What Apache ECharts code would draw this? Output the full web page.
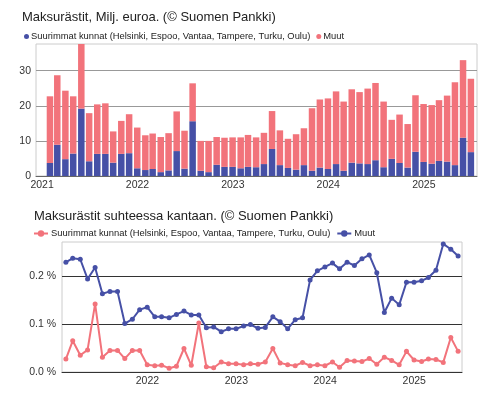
<!DOCTYPE html>
<html><head><meta charset="utf-8">
<script src="https://cdn.jsdelivr.net/npm/echarts@6/dist/echarts.min.js"></script>
<style>html,body{margin:0;padding:0;background:#fff}#c{width:497px;height:394px}</style>
</head><body><div id="c"></div>
<script>
const months = ['2021-01-31','2021-02-28','2021-03-31','2021-04-30','2021-05-31','2021-06-30','2021-07-31','2021-08-31','2021-09-30','2021-10-31','2021-11-30','2021-12-31',
'2022-01-31','2022-02-28','2022-03-31','2022-04-30','2022-05-31','2022-06-30','2022-07-31','2022-08-31','2022-09-30','2022-10-31','2022-11-30','2022-12-31',
'2023-01-31','2023-02-28','2023-03-31','2023-04-30','2023-05-31','2023-06-30','2023-07-31','2023-08-31','2023-09-30','2023-10-31','2023-11-30','2023-12-31',
'2024-01-31','2024-02-29','2024-03-31','2024-04-30','2024-05-31','2024-06-30','2024-07-31','2024-08-31','2024-09-30','2024-10-31','2024-11-30','2024-12-31',
'2025-01-31','2025-02-28','2025-03-31','2025-04-30','2025-05-31','2025-06-30'];
const suurMilj = [3.7,8.9,4.8,6.4,19.2,4.2,6.3,6.3,3.8,6.3,6.5,2.2,1.7,2.0,1.1,1.6,7.1,2.1,15.6,1.5,1.1,3.2,2.6,2.6,2.2,2.6,2.5,3.4,7.7,3.1,2.3,1.8,3.1,1.5,2.4,2.0,3.4,1.5,3.8,3.6,3.4,4.5,2.5,4.9,3.7,2.4,6.9,4.0,3.5,4.3,4.1,3.1,10.9,6.8];
const muutMilj = [19.0,19.8,19.5,16.3,18.4,13.7,14.1,14.4,8.9,9.4,11.1,11.6,9.9,10.1,10.0,10.6,11.3,10.8,10.8,8.5,8.9,7.9,8.3,8.4,8.8,9.1,8.5,8.9,10.8,9.9,8.3,10.1,10.5,17.8,19.4,20.1,20.7,19.7,20.9,20.3,21.5,22.0,18.7,11.1,13.8,12.4,16.1,16.5,16.7,17.3,18.8,23.6,22.1,20.9];
const suurPct = [0.027,0.065,0.035,0.046,0.142,0.031,0.045,0.045,0.028,0.045,0.045,0.015,0.013,0.014,0.008,0.012,0.049,0.014,0.102,0.011,0.009,0.021,0.017,0.017,0.015,0.017,0.016,0.021,0.049,0.019,0.015,0.013,0.020,0.013,0.015,0.013,0.021,0.010,0.024,0.023,0.022,0.028,0.016,0.031,0.024,0.015,0.043,0.025,0.022,0.027,0.026,0.020,0.072,0.043];
const muutPct = [0.229,0.237,0.235,0.194,0.218,0.163,0.168,0.168,0.101,0.110,0.130,0.135,0.115,0.115,0.113,0.120,0.127,0.119,0.119,0.092,0.094,0.084,0.090,0.090,0.096,0.099,0.091,0.093,0.115,0.105,0.090,0.109,0.113,0.192,0.211,0.219,0.227,0.215,0.229,0.222,0.236,0.244,0.207,0.124,0.154,0.140,0.187,0.187,0.190,0.197,0.212,0.267,0.256,0.242];
const titleTop = 'Maksurästit, Milj. euroa. (© Suomen Pankki)';
const titleBottom = 'Maksurästit suhteessa kantaan. (© Suomen Pankki)';
const nameSuur = 'Suurimmat kunnat (Helsinki, Espoo, Vantaa, Tampere, Turku, Oulu)';
const nameMuut = 'Muut';

const BLUE = '#4650a6', PINK = '#f2737b';
const FONT = '"Liberation Sans", Arial, sans-serif';
const pair = (a) => months.map((m, i) => [m, a[i]]);
const labelMap = { lineSuur: nameSuur, lineMuut: nameMuut, barSuur: nameSuur, barMuut: nameMuut };

const chart = echarts.init(document.getElementById('c'), null, { renderer: 'canvas' });
const xCommon = {
  type: 'time',
  minInterval: 365 * 24 * 3600 * 1000,
  axisTick: { show: false },
  splitLine: { show: false },
  axisLabel: { formatter: '{yyyy}', color: '#333', fontSize: 10.5, fontFamily: FONT, margin: 4, hideOverlap: false }
};
chart.setOption({
  animation: false,
  textStyle: { fontFamily: FONT },
  title: [
    { text: titleTop, left: 17, top: 6, textStyle: { fontSize: 13, fontWeight: 'normal', color: '#222', fontFamily: FONT } },
    { text: titleBottom, left: 29, top: 205, textStyle: { fontSize: 13, fontWeight: 'normal', color: '#222', fontFamily: FONT } }
  ],
  legend: [
    { left: 19, top: 27, icon: 'circle', itemWidth: 5, itemHeight: 5, itemGap: 6,
      data: ['barSuur', 'barMuut'], formatter: n => labelMap[n],
      textStyle: { fontSize: 9.4, color: '#222', fontFamily: FONT, padding: [0, 0, 0, -3] } },
    { left: 28, top: 224, itemWidth: 14, itemHeight: 8, itemGap: 6,
      data: ['lineSuur', 'lineMuut'], formatter: n => labelMap[n],
      textStyle: { fontSize: 9.4, color: '#222', fontFamily: FONT, padding: [0, 0, 0, -2] } }
  ],
  grid: [
    { left: 36, right: 20, top: 44, bottom: 218, show: true, borderColor: '#ccc', borderWidth: 1 },
    { left: 62, right: 35, top: 242, bottom: 22, show: true, borderColor: '#ccc', borderWidth: 1 }
  ],
  xAxis: [
    Object.assign({}, xCommon, { gridIndex: 0, min: '2020-12-21', max: '2025-07-11',
      axisLine: { show: true, lineStyle: { color: '#666' } } }),
    Object.assign({}, xCommon, { gridIndex: 1, min: '2021-01-15', max: '2025-07-16',
      axisLine: { show: true, lineStyle: { color: '#333' } } })
  ],
  yAxis: [
    { type: 'value', gridIndex: 0, min: 0, max: 37.6, interval: 10,
      axisLine: { show: false }, axisTick: { show: false },
      axisLabel: { color: '#333', fontSize: 10.5, fontFamily: FONT, margin: 5, showMaxLabel: false },
      splitLine: { show: true, showMaxLine: false, lineStyle: { color: '#999', width: 1 } } },
    { type: 'value', gridIndex: 1, min: 0, max: 0.271, interval: 0.1,
      axisLine: { show: false }, axisTick: { show: false },
      axisLabel: { color: '#333', fontSize: 10.5, fontFamily: FONT, margin: 6, showMaxLabel: false,
        formatter: v => v.toFixed(1) + ' %' },
      splitLine: { show: true, showMaxLine: false, lineStyle: { color: '#333', width: 1 } } }
  ],
  series: [
    { name: 'barSuur', type: 'bar', stack: 'milj', xAxisIndex: 0, yAxisIndex: 0, barWidth: 6.5,
      itemStyle: { color: BLUE }, data: pair(suurMilj) },
    { name: 'barMuut', type: 'bar', stack: 'milj', xAxisIndex: 0, yAxisIndex: 0, barWidth: 6.5,
      itemStyle: { color: PINK }, data: pair(muutMilj) },
    { name: 'lineSuur', type: 'line', xAxisIndex: 1, yAxisIndex: 1, symbol: 'circle', symbolSize: 5,
      itemStyle: { color: PINK }, lineStyle: { color: PINK, width: 2 }, data: pair(suurPct) },
    { name: 'lineMuut', type: 'line', xAxisIndex: 1, yAxisIndex: 1, symbol: 'circle', symbolSize: 5,
      itemStyle: { color: BLUE }, lineStyle: { color: BLUE, width: 2 }, data: pair(muutPct) }
  ]
});
</script></body></html>
